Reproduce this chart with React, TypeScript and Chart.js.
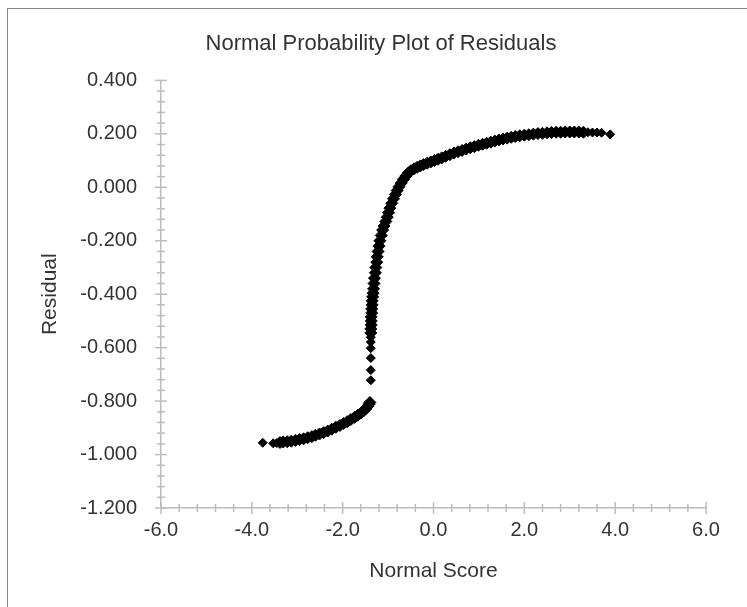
import { useEffect, useRef } from 'react';
import { Chart, registerables } from 'chart.js';

Chart.register(...registerables);

// Dense band of residuals
const bandX = [
  -3.38, -3.31, -3.22, -3.13, -3.04, -2.95, -2.86, -2.77, -2.68, -2.60, -2.51, -2.42, -2.33, -2.24, -2.15, -2.06,
  -1.98, -1.90, -1.82, -1.74, -1.67, -1.60, -1.54, -1.49, -1.45, -1.42, -1.40,
  -1.38, -1.38, -1.37, -1.37, -1.37, -1.36, -1.36, -1.35, -1.35, -1.34,
  -1.33, -1.32, -1.31, -1.30, -1.28, -1.27, -1.25, -1.24, -1.22, -1.20, -1.18, -1.15, -1.12, -1.09, -1.05, -1.02,
  -0.99, -0.96, -0.92, -0.88, -0.84, -0.80, -0.76, -0.71, -0.66, -0.61, -0.56, -0.50, -0.43, -0.36, -0.29, -0.22,
  -0.14, -0.06, 0.02, 0.10, 0.18, 0.27, 0.36, 0.45, 0.54, 0.63, 0.72, 0.81, 0.90, 0.99, 1.08, 1.17, 1.26, 1.35,
  1.44, 1.53, 1.62, 1.71, 1.80, 1.90, 2.00, 2.10, 2.20, 2.30, 2.40, 2.50, 2.60, 2.70, 2.80, 2.90, 3.00, 3.10, 3.20, 3.30,
];
const bandY = [
  -0.955, -0.953, -0.952, -0.950, -0.947, -0.944, -0.941, -0.937, -0.933, -0.928, -0.923, -0.918, -0.912, -0.905, -0.898, -0.891,
  -0.884, -0.877, -0.869, -0.861, -0.853, -0.845, -0.837, -0.829, -0.820, -0.812, -0.805,
  -0.545, -0.530, -0.515, -0.500, -0.485, -0.470, -0.455, -0.440, -0.425, -0.410,
  -0.396, -0.380, -0.360, -0.340, -0.320, -0.300, -0.280, -0.260, -0.240, -0.220, -0.200, -0.180, -0.160, -0.145, -0.128, -0.112,
  -0.095, -0.078, -0.060, -0.043, -0.027, -0.012, 0.002, 0.016, 0.030, 0.042, 0.053, 0.062, 0.069, 0.075, 0.080, 0.085,
  0.090, 0.095, 0.100, 0.105, 0.110, 0.116, 0.122, 0.128, 0.133, 0.138, 0.143, 0.148, 0.152, 0.157, 0.161, 0.165, 0.169, 0.173,
  0.177, 0.181, 0.184, 0.187, 0.190, 0.193, 0.195, 0.197, 0.199, 0.201, 0.202, 0.204, 0.205, 0.206, 0.206, 0.207, 0.207, 0.207, 0.207, 0.206,
];

// Sparse, individually visible residuals (tails and the gap near -0.6)
const beadX = [-3.76, -3.53, -3.45, -1.38, -1.38, -1.38, -1.38, -1.38, -1.38, 3.40, 3.50, 3.60, 3.70, 3.89];
const beadY = [-0.956, -0.958, -0.957, -0.722, -0.684, -0.639, -0.602, -0.579, -0.561, 0.206, 0.205, 0.205, 0.204, 0.198];

const xTickMin = -6;
const xTickMax = 6;
const xTickStep = 2;
const xMinorStep = 0.4;
const yTickMin = -1.2;
const yTickMax = 0.4;
const yTickStep = 0.2;
const yMinorStep = 0.04;

const AXIS_COLOR = '#bcbcbc';
const TEXT_COLOR = '#333333';
const FONT = "'Liberation Sans', Arial, sans-serif";

export default function App() {
  const ref = useRef<HTMLCanvasElement>(null);

  useEffect(() => {
    document.body.style.margin = '0';
    document.body.style.overflow = 'hidden';

    const crossTicks = {
      id: 'crossTicks',
      beforeDatasetsDraw(chart: any) {
        const { ctx, chartArea, scales } = chart;
        const xs = scales.x;
        const ys = scales.y;
        ctx.save();
        ctx.strokeStyle = AXIS_COLOR;
        ctx.lineWidth = 1.5;
        const nx = Math.round((xTickMax - xTickMin) / xMinorStep);
        for (let i = 0; i <= nx; i++) {
          const v = xTickMin + i * xMinorStep;
          const px = xs.getPixelForValue(v);
          const len = i % 5 === 0 ? 6 : 4;
          ctx.beginPath();
          ctx.moveTo(px, chartArea.bottom - len);
          ctx.lineTo(px, chartArea.bottom + len);
          ctx.stroke();
        }
        const ny = Math.round((yTickMax - yTickMin) / yMinorStep);
        for (let i = 0; i <= ny; i++) {
          const v = yTickMin + i * yMinorStep;
          const py = ys.getPixelForValue(v);
          const len = i % 5 === 0 ? 6 : 4;
          ctx.beginPath();
          ctx.moveTo(chartArea.left - len, py);
          ctx.lineTo(chartArea.left + len, py);
          ctx.stroke();
        }
        ctx.restore();
      },
    };

    const chart = new Chart(ref.current!, {
      type: 'scatter',
      data: {
        datasets: [
          {
            data: bandX.map((x, i) => ({ x, y: bandY[i] })),
            pointStyle: 'rectRot',
            pointRadius: 6,
            backgroundColor: '#000',
            borderColor: '#000',
            borderWidth: 1,
          },
          {
            data: beadX.map((x, i) => ({ x, y: beadY[i] })),
            pointStyle: 'rectRot',
            pointRadius: 4.5,
            backgroundColor: '#000',
            borderColor: '#000',
            borderWidth: 1,
          },
        ],
      },
      options: {
        responsive: false,
        animation: false,
        layout: { padding: { left: 56, right: 41, top: 0, bottom: 23 } },
        plugins: {
          legend: { display: false },
          tooltip: { enabled: false },
          title: {
            display: true,
            text: 'Normal Probability Plot of Residuals',
            color: TEXT_COLOR,
            font: { family: FONT, size: 22, weight: 'normal' },
            padding: { top: 31, bottom: 23 },
          },
        },
        scales: {
          x: {
            type: 'linear',
            min: xTickMin,
            max: xTickMax,
            afterFit: (s: any) => {
              s.height = 76;
            },
            grid: { display: false, drawTicks: false },
            border: { display: true, color: AXIS_COLOR, width: 1.5 },
            ticks: {
              stepSize: xTickStep,
              padding: 10,
              color: TEXT_COLOR,
              font: { family: FONT, size: 20 },
              callback: (v: any) => Number(v).toFixed(1),
            },
            title: {
              display: true,
              text: 'Normal Score',
              color: TEXT_COLOR,
              font: { family: FONT, size: 21 },
              padding: { top: 0, bottom: 0 },
            },
          },
          y: {
            type: 'linear',
            min: yTickMin,
            max: yTickMax,
            afterFit: (s: any) => {
              s.width = 105;
            },
            grid: { display: false, drawTicks: false },
            border: { display: true, color: AXIS_COLOR, width: 1.5 },
            ticks: {
              stepSize: yTickStep,
              padding: 24,
              color: TEXT_COLOR,
              font: { family: FONT, size: 20 },
              callback: (v: any) => Number(v).toFixed(3),
            },
            title: {
              display: true,
              text: 'Residual',
              color: TEXT_COLOR,
              font: { family: FONT, size: 21 },
              padding: { top: -18, bottom: 0 },
            },
          },
        },
      },
      plugins: [crossTicks],
    });
    return () => chart.destroy();
  }, []);

  return (
    <div style={{ position: 'relative', width: 747, height: 607, overflow: 'hidden', background: '#fff' }}>
      <canvas ref={ref} width={747} height={607} style={{ position: 'absolute', left: 0, top: 0 }} />
      <div
        style={{
          position: 'absolute',
          left: 7,
          top: 8,
          width: 760,
          height: 620,
          border: '1px solid #8a8a8a',
          pointerEvents: 'none',
        }}
      />
    </div>
  );
}
